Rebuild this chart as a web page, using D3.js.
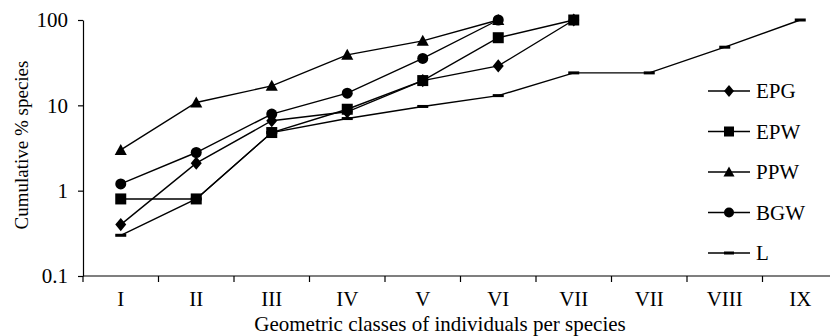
<!DOCTYPE html>
<html lang="en">
<head>
<meta charset="utf-8">
<title>Cumulative % species</title>
<script src="https://cdnjs.cloudflare.com/ajax/libs/d3/7.8.5/d3.min.js"></script>
<style>
  body { margin: 0; background: #fff; }
  .axis path, .axis line { stroke: #000; stroke-width: 1.2; }
  .series { fill: none; stroke: #000; stroke-width: 1.4; }
</style>
</head>
<body>
<svg id="chart" width="830" height="336"></svg>
<script>
// geometric classes (VII appears twice in the original figure)
const classes = ["I", "II", "III", "IV", "V", "VI", "VII", "VII", "VIII", "IX"];

// cumulative % species per class, null = no point
const epg = [0.4, 2.1, 6.6, 8.4, 19.5, 29, 100, null, null, null];
const epw = [0.8, 0.8, 4.8, 9.0, 19.5, 62, 100, null, null, null];
const ppw = [3.0, 10.8, 16.9, 39, 57, 100, null, null, null, null];
const bgw = [1.2, 2.8, 7.9, 13.9, 35.5, 100, null, null, null, null];
const lSite = [0.3, 0.8, 4.8, 7.0, 9.7, 13, 24, 24, 48, 100];

const seriesNames = ["EPG", "EPW", "PPW", "BGW", "L"];
const seriesValues = [epg, epw, ppw, bgw, lSite];
const seriesSymbols = ["diamond", "square", "triangle", "circle", "dash"];

const yTicks = [0.1, 1, 10, 100];

const serif = "'Liberation Serif', 'Times New Roman', 'DejaVu Serif', serif";

const svg = d3.select("#chart").attr("font-family", serif);
const plotLeft = 83, plotRight = 838, plotTop = 20, plotBottom = 276;

const x = d3.scaleBand()
  .domain(d3.range(classes.length))
  .range([plotLeft, plotRight]);

const y = d3.scaleLog()
  .domain([0.1, 100])
  .range([plotBottom, plotTop]);

// y axis
svg.append("g")
  .attr("class", "axis")
  .attr("transform", `translate(${plotLeft},0)`)
  .call(d3.axisLeft(y).tickValues(yTicks).tickFormat(d3.format("~g")).tickSize(5).tickSizeOuter(0).tickPadding(10))
  .attr("font-family", serif)
  .attr("font-size", 21);

// x axis: line, ticks at class boundaries, labels at class centres
const xa = svg.append("g").attr("class", "axis");
xa.append("line")
  .attr("x1", plotLeft).attr("x2", plotRight)
  .attr("y1", plotBottom).attr("y2", plotBottom);
xa.selectAll(".bt")
  .data(d3.range(classes.length + 1))
  .enter().append("line")
  .attr("x1", i => i < classes.length ? x(i) : plotRight)
  .attr("x2", i => i < classes.length ? x(i) : plotRight)
  .attr("y1", plotBottom).attr("y2", plotBottom + 6);
xa.selectAll(".lab")
  .data(classes)
  .enter().append("text")
  .attr("x", (d, i) => x(i) + x.bandwidth() / 2)
  .attr("y", 306)
  .attr("text-anchor", "middle")
  .attr("font-size", 21)
  .text(d => d);

// axis titles
svg.append("text")
  .attr("x", 440).attr("y", 331)
  .attr("text-anchor", "middle")
  .attr("font-size", 21)
  .text("Geometric classes of individuals per species");

svg.append("text")
  .attr("transform", "translate(28,145) rotate(-90)")
  .attr("text-anchor", "middle")
  .attr("font-size", 19)
  .text("Cumulative % species");

// marker drawing
function drawSymbol(g, kind, cx, cy, s) {
  if (kind === "diamond") {
    g.append("path").attr("d", `M${cx},${cy - s * 0.6}L${cx + s * 0.5},${cy}L${cx},${cy + s * 0.6}L${cx - s * 0.5},${cy}Z`);
  } else if (kind === "square") {
    g.append("rect").attr("x", cx - s / 2).attr("y", cy - s / 2).attr("width", s).attr("height", s);
  } else if (kind === "triangle") {
    g.append("path").attr("d", `M${cx},${cy - s * 0.55}L${cx + s * 0.55},${cy + s * 0.45}L${cx - s * 0.55},${cy + s * 0.45}Z`);
  } else if (kind === "circle") {
    g.append("circle").attr("cx", cx).attr("cy", cy).attr("r", s / 2);
  } else {
    g.append("rect").attr("x", cx - s / 2).attr("y", cy - 1.5).attr("width", s).attr("height", 3);
  }
}

const line = d3.line()
  .defined(d => d != null)
  .x((d, i) => x(i) + x.bandwidth() / 2)
  .y(d => y(d));

// draw in reverse so the first series sit on top
for (let k = seriesNames.length - 1; k >= 0; k--) {
  const vals = seriesValues[k];
  svg.append("path").attr("class", "series").attr("d", line(vals));
  const mg = svg.append("g").attr("fill", "#000");
  vals.forEach((v, i) => {
    if (v == null) return;
    drawSymbol(mg, seriesSymbols[k], x(i) + x.bandwidth() / 2, y(v), 11);
  });
}

// legend
const legend = svg.append("g");
seriesNames.forEach((name, k) => {
  const ly = 91 + k * 40.5;
  legend.append("line")
    .attr("x1", 708).attr("x2", 750)
    .attr("y1", ly).attr("y2", ly)
    .attr("stroke", "#000").attr("stroke-width", 1.4);
  drawSymbol(legend.append("g").attr("fill", "#000"), seriesSymbols[k], 729, ly, 10);
  legend.append("text")
    .attr("x", 756).attr("y", ly + 7)
    .attr("font-size", 21)
    .text(name);
});
</script>
</body>
</html>
